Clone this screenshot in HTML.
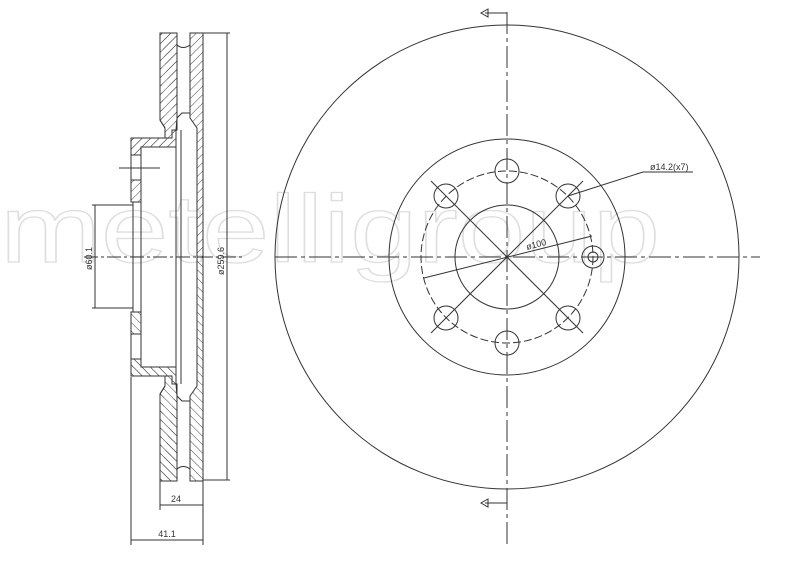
<!DOCTYPE html>
<html><head><style>body{margin:0;background:#fff}svg{display:block}</style></head><body>
<svg width="800" height="565" viewBox="0 0 800 565" xmlns="http://www.w3.org/2000/svg" font-family="Liberation Sans, sans-serif">
<defs>
<pattern id="h" width="6" height="6" patternUnits="userSpaceOnUse" patternTransform="rotate(45)">
<line x1="0" y1="0" x2="0" y2="6" stroke="#444" stroke-width="1"/></pattern>
</defs>
<text x="0" y="262" font-size="96" fill="none" stroke="#dedede" stroke-width="1.3" textLength="660" lengthAdjust="spacingAndGlyphs">metelligroup</text>
<g stroke="#333" stroke-width="1" fill="none">
<!-- side view: top half, mirrored for bottom -->
<g id="half">
<path d="M160 33 H177 V120 L177 130 H172 L172 138 H131 V155 H141 V147 H176 V130 M160 33 V120 L165 128 V138" fill="url(#h)"/>
<path d="M160 33 H177 V118 L176 130 V147 H141 V155 H131 V138 H165 V128 L160 120 Z" fill="url(#h)"/>
<path d="M131 180 H141 V202 H131 Z" fill="url(#h)"/>
<path d="M190 33 H203 V257 H197 V128 L190 118 Z" fill="url(#h)"/>
<path d="M177 45 Q183 50 190 45"/>
<path d="M177 118 L182 113 H190"/>
<line x1="176" y1="130" x2="176" y2="257"/>
<line x1="181" y1="130" x2="181" y2="257"/>
<line x1="131" y1="155" x2="131" y2="180"/>
<line x1="141" y1="155" x2="141" y2="180"/>
<line x1="133" y1="202" x2="133" y2="257"/>
<line x1="141" y1="202" x2="141" y2="257"/>
</g>
<use href="#half" transform="matrix(1 0 0 -1 0 514)"/>
<line x1="119" y1="168" x2="160" y2="168"/>
<!-- dims -->
<line x1="203" y1="33" x2="230" y2="33"/><line x1="203" y1="480" x2="230" y2="480"/>
<line x1="227" y1="33" x2="227" y2="480"/>
<line x1="92" y1="205" x2="133" y2="205"/><line x1="92" y1="308" x2="133" y2="308"/>
<line x1="95" y1="205" x2="95" y2="308"/>
<line x1="160" y1="481" x2="160" y2="510"/><line x1="131" y1="377" x2="131" y2="545"/><line x1="203" y1="481" x2="203" y2="545"/>
<line x1="160" y1="505" x2="203" y2="505"/><line x1="131" y1="540" x2="203" y2="540"/>
<line x1="84" y1="257" x2="245" y2="257" stroke-dasharray="14 3 3 3"/>
<!-- front view -->
<circle cx="507" cy="257" r="232"/>
<circle cx="507" cy="257" r="118"/>
<circle cx="507" cy="257" r="86" stroke-dasharray="8 3"/>
<circle cx="507" cy="257" r="52"/>
<circle cx="507" cy="171" r="12"/><circle cx="507" cy="343" r="12"/>
<circle cx="446" cy="196" r="12"/><circle cx="568" cy="196" r="12"/>
<circle cx="446" cy="318" r="12"/><circle cx="568" cy="318" r="12"/>
<circle cx="593" cy="257" r="11"/><circle cx="593" cy="257" r="5"/>
<line x1="431" y1="181" x2="583" y2="333"/><line x1="431" y1="333" x2="583" y2="181"/>
<line x1="275" y1="257" x2="760" y2="257" stroke-dasharray="22 4 4 4"/>
<line x1="507" y1="12" x2="507" y2="545" stroke-dasharray="22 4 4 4"/>
<line x1="424" y1="278" x2="592" y2="236"/>
<line x1="568" y1="196" x2="643" y2="172"/><line x1="643" y1="172" x2="693" y2="172"/>
<path d="M507 13 H485 M488 9 L481 13 L488 17 Z"/>
<path d="M507 503 H485 M488 499 L481 503 L488 507 Z"/>
</g>
<g font-size="9" fill="#333">
<text x="176" y="502" text-anchor="middle">24</text>
<text x="167" y="537" text-anchor="middle">41.1</text>
<text x="650" y="170">ø14.2(x7)</text>
<text transform="translate(527,250) rotate(-15)">ø100</text>
<text transform="translate(92,270) rotate(-90)">ø60.1</text>
<text transform="translate(224,275) rotate(-90)">ø259.6</text>
</g>
</svg>
</body></html>
